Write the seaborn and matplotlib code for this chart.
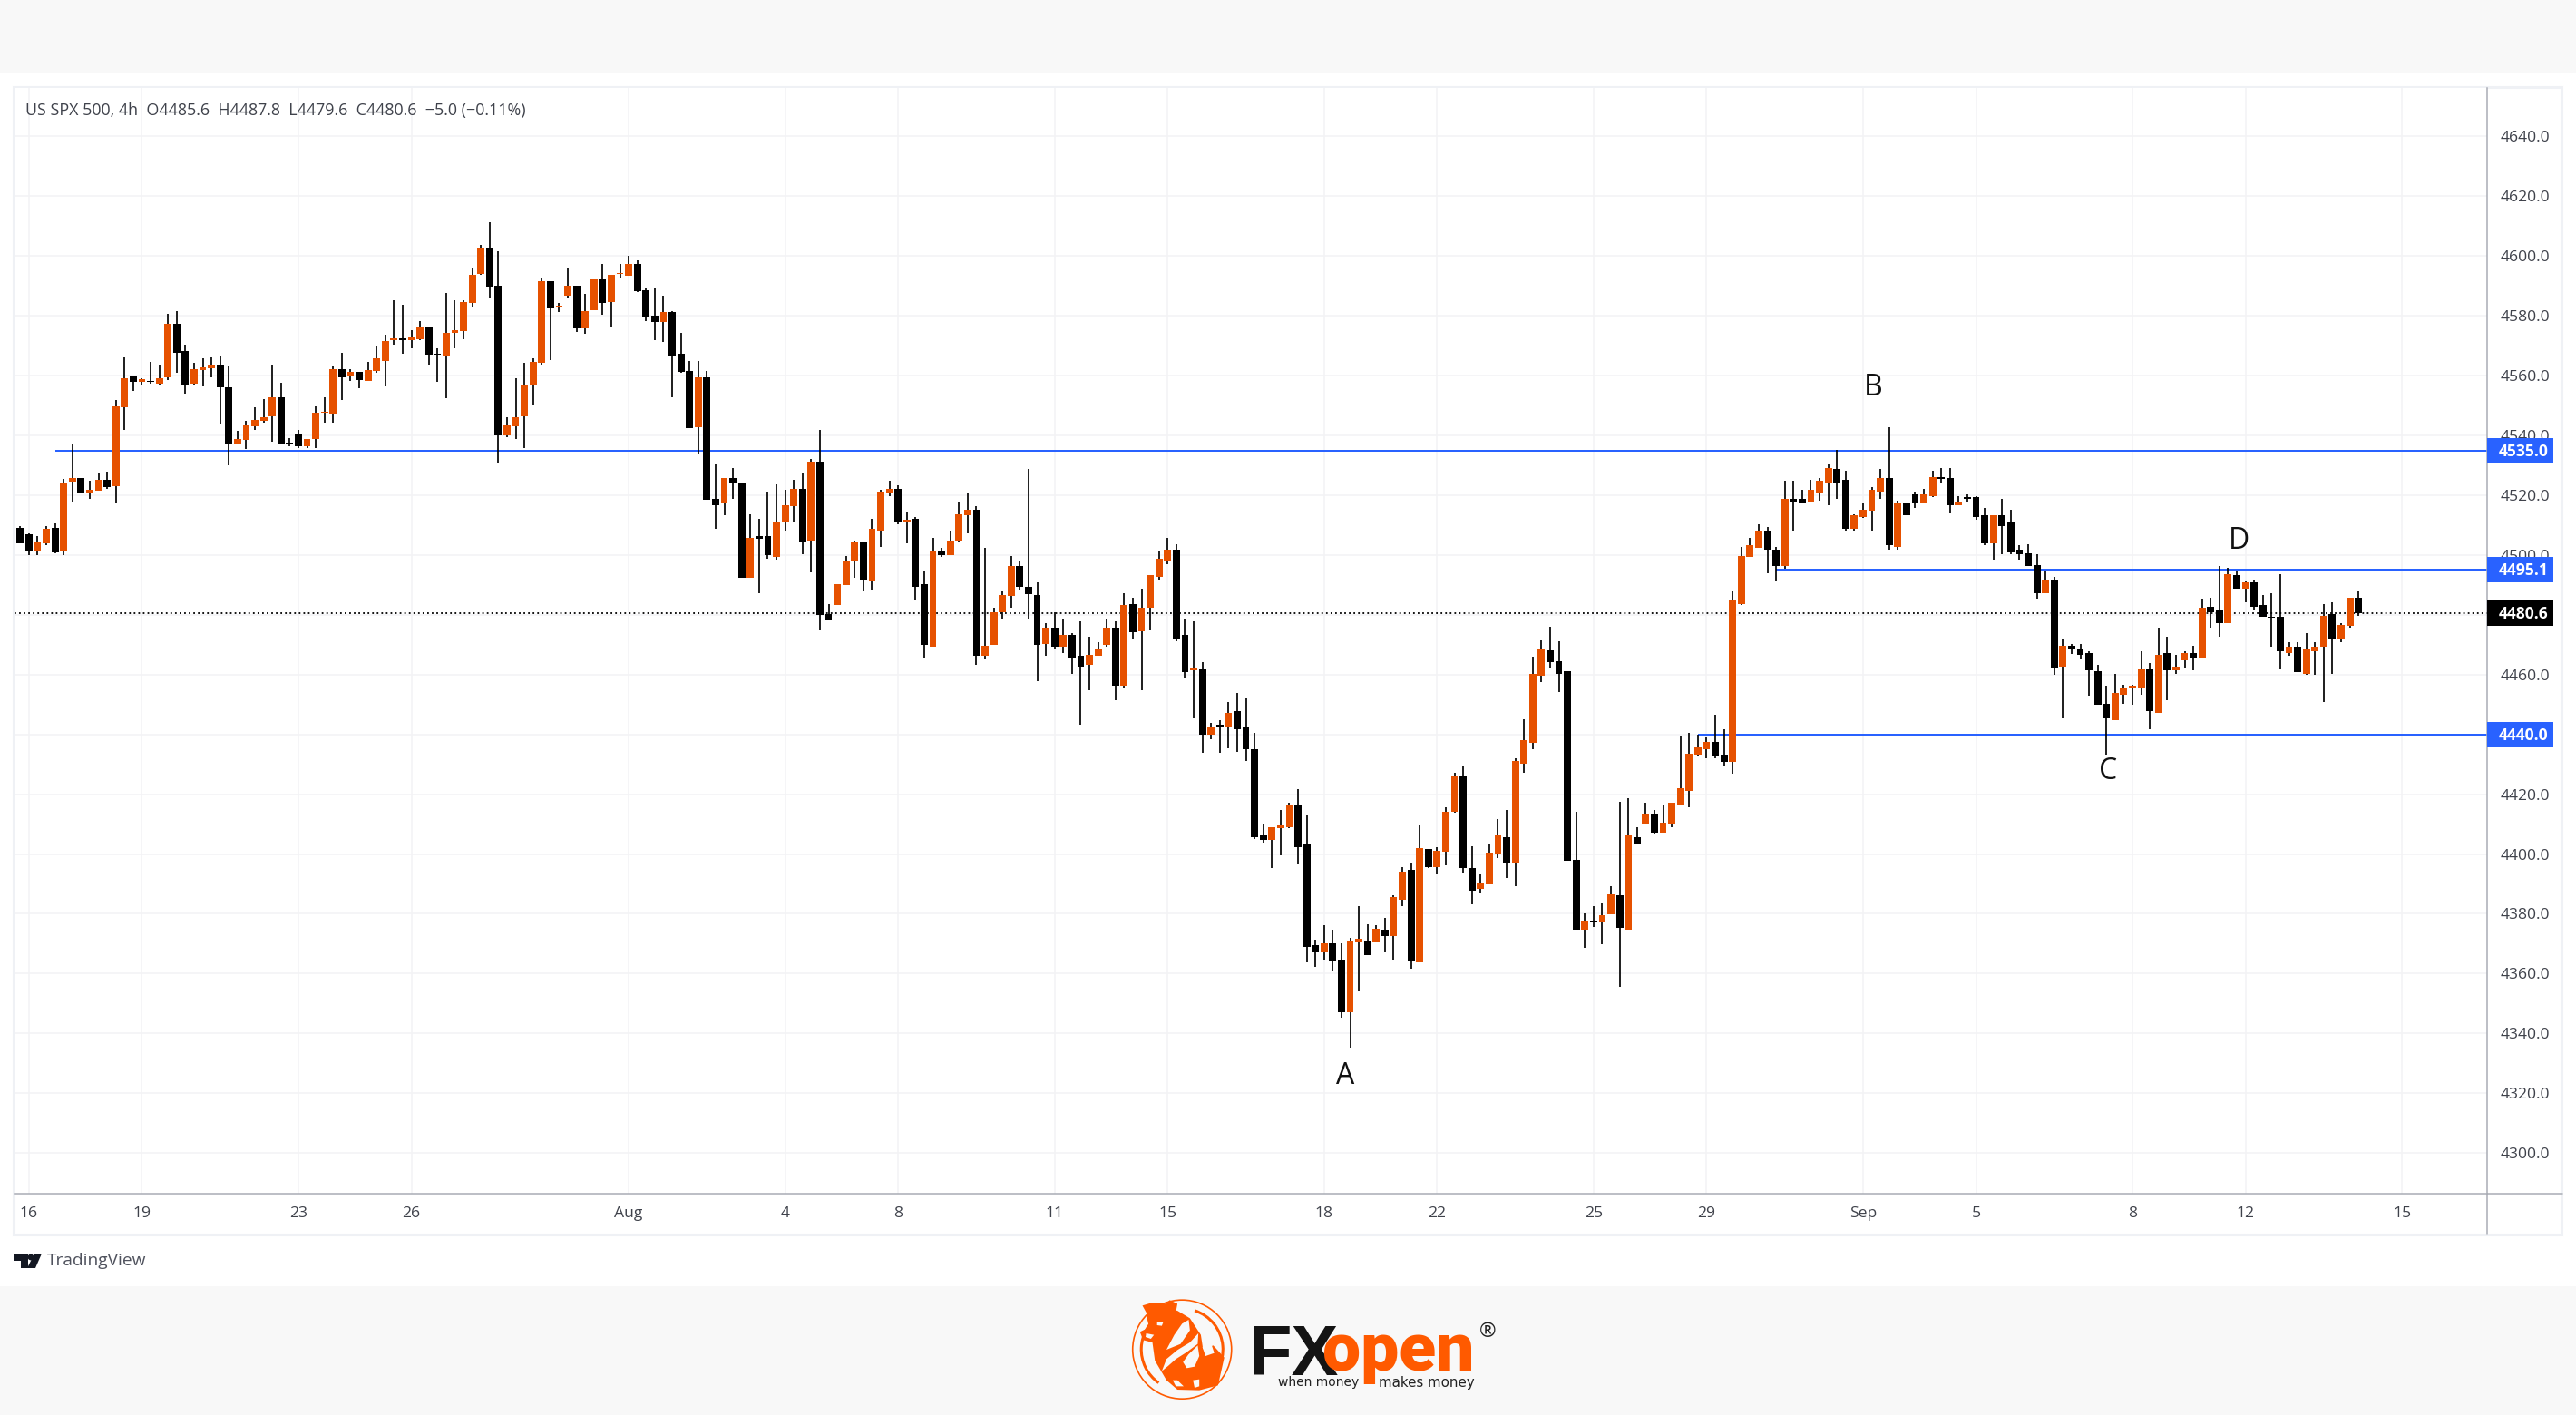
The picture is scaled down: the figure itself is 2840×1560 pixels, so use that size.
import matplotlib
matplotlib.use('Agg')
import matplotlib.pyplot as plt
import numpy as np
import pandas as pd
import seaborn as sns
from matplotlib.patches import Circle, Arc, Polygon, Rectangle
from matplotlib.transforms import blended_transform_factory

# Velas de 4h
opens = [
    4521.0, 4509.2, 4506.8, 4501.1, 4504.0, 4509.2, 4501.5, 4524.6, 4525.7, 4520.5,
    4521.5, 4525.2, 4523.0, 4549.5, 4559.7, 4558.0, 4558.2, 4557.2, 4559.4, 4577.2,
    4568.2, 4557.3, 4561.8, 4562.4, 4563.7, 4556.2, 4536.9, 4538.4, 4542.9, 4544.8,
    4546.3, 4552.7, 4537.5, 4540.7, 4536.3, 4538.9, 4547.5, 4547.4, 4562.3, 4559.9,
    4561.3, 4558.3, 4561.4, 4564.9, 4571.9, 4572.3, 4571.9, 4572.3, 4576.2, 4567.3,
    4566.8, 4574.4, 4574.9, 4584.4, 4593.9, 4602.7, 4590.2, 4539.9, 4542.9, 4546.3,
    4556.8, 4564.2, 4591.7, 4582.8, 4586.7, 4590.2, 4575.9, 4581.9, 4592.2, 4584.6,
    4593.9, 4593.3, 4597.2, 4588.7, 4580.2, 4577.8, 4581.2, 4567.3, 4561.7, 4542.8,
    4559.3, 4518.8, 4517.3, 4525.7, 4524.2, 4492.3, 4506.2, 4506.2, 4499.4, 4510.8,
    4516.3, 4522.2, 4504.9, 4531.2, 4480.2, 4483.4, 4489.9, 4497.8, 4504.3, 4491.4,
    4508.3, 4520.8, 4522.2, 4510.8, 4512.2, 4490.3, 4469.3, 4501.3, 4499.9, 4504.8,
    4513.3, 4515.2, 4466.3, 4469.8, 4480.8, 4486.3, 4496.3, 4489.2, 4486.7, 4470.3,
    4475.8, 4469.3, 4473.3, 4466.3, 4463.4, 4466.3, 4469.8, 4475.8, 4456.4, 4483.7,
    4474.4, 4482.3, 4492.8, 4497.8, 4501.8, 4473.3, 4461.3, 4461.7, 4439.8, 4443.2,
    4442.2, 4447.8, 4442.7, 4435.0, 4406.1, 4404.8, 4408.6, 4409.1, 4416.6, 4403.1,
    4369.6, 4367.2, 4370.1, 4364.7, 4347.2, 4370.7, 4371.0, 4370.7, 4374.6, 4372.7,
    4384.7, 4394.6, 4363.7, 4401.6, 4395.7, 4400.7, 4414.2, 4426.2, 4395.2, 4388.3,
    4389.7, 4400.2, 4405.6, 4397.1, 4430.1, 4437.2, 4459.6, 4468.0, 4464.6, 4461.0,
    4398.1, 4374.7, 4377.6, 4377.1, 4379.7, 4386.1, 4374.7, 4405.6, 4410.2, 4413.6,
    4407.2, 4410.2, 4416.1, 4421.2, 4433.1, 4435.1, 4437.6, 4433.1, 4430.9, 4483.7,
    4499.4, 4502.3, 4508.3, 4501.8, 4496.3, 4518.8, 4518.8, 4517.8, 4520.8, 4524.3,
    4528.7, 4525.2, 4508.8, 4512.8, 4514.8, 4521.3, 4525.7, 4502.8, 4517.3, 4520.2,
    4517.3, 4519.8, 4526.2, 4525.7, 4516.8, 4519.3, 4519.3, 4513.2, 4503.8, 4513.2,
    4510.8, 4501.8, 4500.7, 4496.7, 4487.3, 4491.8, 4462.8, 4469.7, 4468.7, 4467.2,
    4461.2, 4450.2, 4444.8, 4453.4, 4455.3, 4455.8, 4461.7, 4447.3, 4467.2, 4461.3,
    4464.8, 4467.2, 4465.8, 4482.8, 4481.8, 4477.3, 4493.2, 4488.8, 4490.8, 4483.3,
    4479.2, 4479.2, 4467.3, 4469.2, 4460.3, 4467.8, 4469.3, 4480.2, 4471.7, 4476.2,
    4485.6,
]
closes = [
    4509.0, 4504.0, 4501.1, 4504.3, 4508.7, 4501.0, 4524.3, 4525.7, 4520.5, 4521.7,
    4525.2, 4522.8, 4549.6, 4559.2, 4558.0, 4558.7, 4557.8, 4559.2, 4577.2, 4567.5,
    4556.9, 4562.3, 4562.7, 4563.7, 4556.0, 4536.9, 4538.8, 4543.2, 4545.2, 4546.2,
    4552.7, 4537.4, 4537.1, 4536.3, 4538.8, 4547.7, 4547.8, 4562.3, 4559.4, 4561.3,
    4558.4, 4561.8, 4565.7, 4571.7, 4572.3, 4571.9, 4572.8, 4576.2, 4566.9, 4566.9,
    4574.3, 4575.2, 4584.6, 4593.8, 4602.7, 4589.8, 4539.9, 4543.2, 4546.2, 4556.7,
    4564.6, 4591.7, 4582.4, 4583.2, 4590.2, 4575.9, 4581.7, 4592.2, 4584.4, 4593.8,
    4594.3, 4597.2, 4588.3, 4579.8, 4577.8, 4581.2, 4566.8, 4561.3, 4542.4, 4559.3,
    4518.4, 4516.8, 4525.7, 4523.8, 4492.3, 4505.7, 4505.3, 4499.9, 4511.2, 4516.7,
    4522.2, 4504.3, 4531.2, 4479.8, 4478.3, 4490.3, 4498.2, 4504.3, 4491.9, 4508.8,
    4521.2, 4522.2, 4510.8, 4511.7, 4489.3, 4469.8, 4501.3, 4499.9, 4504.7, 4513.7,
    4515.2, 4466.3, 4469.7, 4480.8, 4486.7, 4496.3, 4489.3, 4486.8, 4469.8, 4475.8,
    4469.3, 4473.3, 4465.8, 4462.8, 4466.7, 4468.7, 4475.8, 4456.4, 4483.3, 4474.3,
    4482.3, 4493.3, 4498.8, 4501.8, 4471.9, 4460.8, 4462.2, 4439.8, 4442.7, 4442.2,
    4447.3, 4441.8, 4435.1, 4405.6, 4404.8, 4409.1, 4409.6, 4416.6, 4402.2, 4368.8,
    4367.2, 4370.1, 4364.2, 4347.2, 4371.0, 4371.6, 4366.2, 4375.1, 4372.7, 4385.7,
    4394.1, 4364.2, 4402.0, 4395.7, 4401.1, 4414.1, 4426.2, 4395.2, 4387.7, 4390.2,
    4400.6, 4406.1, 4397.1, 4431.1, 4438.1, 4460.1, 4468.6, 4464.1, 4460.1, 4397.7,
    4374.7, 4377.6, 4377.2, 4379.6, 4386.6, 4375.2, 4406.1, 4403.6, 4413.6, 4407.2,
    4410.6, 4417.1, 4422.1, 4433.6, 4435.7, 4437.6, 4432.6, 4430.7, 4484.7, 4499.8,
    4503.2, 4508.3, 4501.9, 4496.3, 4518.8, 4517.8, 4517.6, 4521.7, 4524.7, 4529.2,
    4524.3, 4508.8, 4513.2, 4515.2, 4521.7, 4525.7, 4503.3, 4517.3, 4513.3, 4517.3,
    4520.2, 4526.2, 4525.3, 4516.8, 4517.8, 4518.8, 4512.8, 4503.8, 4513.2, 4509.8,
    4500.8, 4500.4, 4496.3, 4487.3, 4491.8, 4462.2, 4469.7, 4468.8, 4466.7, 4461.3,
    4449.8, 4445.3, 4453.8, 4455.8, 4456.3, 4461.7, 4447.8, 4466.7, 4461.3, 4462.8,
    4467.2, 4465.8, 4482.3, 4480.8, 4477.3, 4493.7, 4488.8, 4490.8, 4482.8, 4479.3,
    4478.9, 4467.8, 4469.2, 4460.8, 4468.7, 4469.2, 4479.7, 4471.7, 4476.7, 4485.7,
    4480.6,
]
highs = [
    4521.2, 4509.7, 4507.3, 4506.3, 4509.8, 4510.7, 4525.3, 4537.3, 4525.7, 4524.7,
    4527.4, 4527.8, 4551.9, 4566.1, 4559.7, 4559.2, 4564.7, 4563.7, 4580.7, 4581.7,
    4570.2, 4564.2, 4565.8, 4566.1, 4566.7, 4563.2, 4541.4, 4544.8, 4549.3, 4552.2,
    4563.6, 4557.7, 4539.2, 4541.7, 4538.8, 4549.6, 4552.7, 4563.2, 4567.7, 4562.3,
    4561.3, 4564.7, 4569.7, 4573.6, 4585.1, 4583.6, 4575.1, 4578.2, 4576.2, 4569.2,
    4587.6, 4585.1, 4585.1, 4595.7, 4603.7, 4611.2, 4601.7, 4546.2, 4559.2, 4564.2,
    4565.7, 4592.7, 4591.7, 4584.4, 4595.7, 4590.2, 4587.2, 4592.2, 4597.2, 4593.8,
    4597.2, 4600.2, 4598.7, 4589.1, 4589.1, 4586.8, 4581.7, 4574.2, 4564.8, 4564.8,
    4561.7, 4530.3, 4525.7, 4529.2, 4524.2, 4513.7, 4512.2, 4521.2, 4523.7, 4521.7,
    4525.2, 4527.2, 4532.2, 4541.8, 4483.7, 4490.3, 4499.7, 4504.8, 4504.3, 4512.2,
    4521.7, 4524.7, 4523.2, 4514.2, 4512.7, 4494.8, 4505.7, 4502.3, 4508.3, 4517.8,
    4520.7, 4516.2, 4502.3, 4482.3, 4487.7, 4499.7, 4498.2, 4528.8, 4490.8, 4477.3,
    4480.8, 4478.8, 4473.8, 4477.8, 4472.8, 4470.7, 4478.8, 4477.8, 4487.2, 4485.7,
    4488.7, 4493.3, 4501.3, 4505.7, 4503.7, 4478.8, 4477.8, 4464.3, 4443.8, 4444.8,
    4450.7, 4453.8, 4452.1, 4440.6, 4410.1, 4409.1, 4414.6, 4417.1, 4421.6, 4413.1,
    4371.2, 4376.2, 4374.6, 4370.1, 4372.1, 4382.6, 4376.6, 4376.2, 4378.7, 4386.2,
    4395.6, 4397.1, 4409.6, 4401.6, 4402.2, 4415.6, 4427.1, 4429.6, 4402.6, 4393.2,
    4403.6, 4411.6, 4414.6, 4432.1, 4445.1, 4466.1, 4471.6, 4476.1, 4471.1, 4461.0,
    4414.1, 4380.1, 4382.6, 4383.7, 4389.1, 4417.6, 4418.6, 4409.1, 4417.1, 4414.6,
    4416.6, 4417.1, 4439.5, 4440.6, 4439.9, 4439.2, 4446.5, 4441.6, 4487.7, 4502.8,
    4505.7, 4510.3, 4509.3, 4502.8, 4524.7, 4524.7, 4521.7, 4525.2, 4525.7, 4530.7,
    4535.2, 4528.2, 4513.7, 4517.2, 4522.7, 4528.7, 4542.7, 4518.3, 4517.3, 4521.2,
    4522.2, 4528.2, 4529.2, 4529.2, 4519.8, 4520.3, 4519.8, 4515.7, 4513.2, 4518.8,
    4515.2, 4503.2, 4503.7, 4500.3, 4494.8, 4492.8, 4471.8, 4470.2, 4470.2, 4467.8,
    4463.3, 4456.3, 4460.2, 4456.7, 4456.7, 4467.7, 4463.8, 4475.7, 4472.8, 4466.7,
    4467.7, 4469.7, 4485.3, 4485.8, 4496.3, 4495.7, 4494.8, 4491.3, 4491.8, 4486.7,
    4487.2, 4493.7, 4470.7, 4470.7, 4473.8, 4470.7, 4483.7, 4484.3, 4477.2, 4485.7,
    4487.8,
]
lows = [
    4509.0, 4503.8, 4500.0, 4500.0, 4503.4, 4500.6, 4500.0, 4517.9, 4520.5, 4518.9,
    4521.5, 4522.0, 4517.4, 4541.9, 4555.0, 4556.8, 4557.3, 4556.8, 4558.4, 4560.9,
    4553.9, 4556.8, 4556.3, 4559.3, 4543.8, 4530.0, 4536.9, 4535.4, 4541.9, 4544.3,
    4537.9, 4537.4, 4536.4, 4535.9, 4535.9, 4535.9, 4544.3, 4544.3, 4551.9, 4558.3,
    4555.8, 4558.3, 4560.8, 4556.3, 4570.3, 4567.3, 4569.2, 4571.8, 4563.7, 4557.8,
    4552.4, 4569.2, 4572.3, 4582.8, 4593.8, 4586.2, 4530.9, 4539.4, 4538.9, 4535.9,
    4550.4, 4563.7, 4565.2, 4581.3, 4586.2, 4574.7, 4573.9, 4581.9, 4580.3, 4576.2,
    4592.7, 4593.3, 4587.9, 4578.3, 4571.8, 4571.3, 4552.8, 4560.9, 4542.4, 4533.8,
    4518.4, 4508.8, 4513.3, 4518.8, 4492.3, 4492.3, 4487.3, 4498.8, 4498.3, 4508.3,
    4511.3, 4500.3, 4494.3, 4474.8, 4478.3, 4483.4, 4489.9, 4492.3, 4487.8, 4488.3,
    4502.8, 4519.8, 4510.3, 4503.8, 4484.8, 4465.8, 4469.3, 4499.3, 4499.9, 4504.3,
    4507.2, 4463.4, 4465.3, 4469.8, 4478.8, 4482.3, 4488.3, 4478.8, 4457.9, 4466.3,
    4468.3, 4467.3, 4460.2, 4443.2, 4454.9, 4466.3, 4469.3, 4451.3, 4455.4, 4471.9,
    4454.9, 4474.8, 4491.8, 4496.8, 4471.3, 4458.8, 4445.3, 4433.7, 4438.3, 4433.7,
    4435.3, 4434.2, 4431.2, 4405.1, 4403.7, 4395.3, 4399.6, 4408.6, 4396.7, 4363.7,
    4362.2, 4364.7, 4360.7, 4345.3, 4335.2, 4354.2, 4366.2, 4370.7, 4367.2, 4364.7,
    4382.6, 4361.7, 4363.7, 4395.2, 4393.2, 4396.1, 4413.7, 4393.7, 4383.2, 4387.2,
    4389.7, 4398.6, 4392.1, 4389.2, 4427.1, 4435.1, 4457.6, 4462.1, 4454.2, 4397.7,
    4374.7, 4368.6, 4375.6, 4369.7, 4379.7, 4355.7, 4374.7, 4403.1, 4410.2, 4406.6,
    4407.2, 4409.1, 4416.1, 4415.6, 4432.6, 4432.1, 4432.1, 4429.6, 4426.8, 4483.3,
    4499.4, 4502.3, 4493.8, 4491.3, 4495.3, 4508.3, 4517.3, 4517.8, 4518.2, 4516.7,
    4518.8, 4508.3, 4508.3, 4512.3, 4508.3, 4518.8, 4501.8, 4501.8, 4513.3, 4515.8,
    4517.3, 4519.3, 4524.3, 4513.8, 4516.8, 4517.8, 4511.8, 4503.3, 4498.3, 4500.3,
    4500.3, 4498.3, 4496.3, 4485.3, 4487.3, 4459.8, 4445.3, 4466.8, 4465.3, 4452.8,
    4449.8, 4433.3, 4444.8, 4450.3, 4449.8, 4453.4, 4441.8, 4447.3, 4451.3, 4460.3,
    4462.3, 4461.3, 4465.8, 4475.7, 4472.8, 4477.3, 4488.8, 4484.3, 4481.8, 4479.3,
    4469.3, 4461.7, 4466.3, 4460.8, 4459.8, 4459.8, 4450.8, 4460.3, 4470.7, 4475.7,
    4479.6,
]

price_ticks = list(range(4300, 4660, 20))
date_labels = ['16', '19', '23', '26', 'Aug', '4', '8', '11', '15', '18', '22', '25', '29', 'Sep', '5', '8', '12', '15']
date_bars = [2, 15, 33, 46, 71, 89, 102, 120, 133, 151, 164, 182, 195, 213, 226, 244, 257, 275]

level_prices = [4535.0, 4495.1, 4440.0]
level_starts = [5, 203, 194]
last_price = 4480.6

point_labels = ['A', 'B', 'C', 'D']
point_bars = [153.4, 214.2, 241.2, 256.3]
point_prices = [4325.7, 4555.9, 4427.7, 4504.6]

W, H = 2840, 1560
ORANGE = '#e65100'
BLUE = '#2962ff'
LOGO = '#ff5a00'
TEXT = '#3f424b'
BAND = '#f8f8f8'

sns.set_theme(style='white')
plt.rcParams['font.family'] = ['Open Sans', 'DejaVu Sans']

df = pd.DataFrame({'open': opens, 'high': highs, 'low': lows, 'close': closes})
df['bar'] = np.arange(len(df))
df['up'] = df['close'] >= df['open']
df['base'] = df[['open', 'close']].min(axis=1)
# Las velas doji siguen viendose como una raya fina
df['body'] = (df['close'] - df['open']).abs().clip(lower=0.45)

fig = plt.figure(figsize=(W / 200, H / 200), dpi=200, facecolor='white')

# Fondo en pixeles: bandas, marco, logos
bg = fig.add_axes([0, 0, 1, 1], zorder=0)
bg.set_xlim(0, W)
bg.set_ylim(H, 0)
bg.axis('off')
bg.add_patch(Rectangle((0, 0), W, 80, color=BAND, lw=0))
bg.add_patch(Rectangle((0, 1418), W, 142, color=BAND, lw=0))
bg.add_patch(Rectangle((15, 96), 2809, 1265, fc='white', ec='#eff1f5', lw=1.1))
bg.plot([2742, 2825], [1316, 1316], color='#a9acb5', lw=0.55)
bg.plot([2742, 2742], [1316, 1361], color='#a9acb5', lw=0.55)

# Logo TradingView
bg.add_patch(Polygon([(15, 1382), (31, 1382), (31, 1398), (23, 1398), (23, 1390), (15, 1390)], color='#131722', lw=0))
bg.add_patch(Circle((34, 1386), 3.4, color='#131722', lw=0))
bg.add_patch(Polygon([(38, 1382), (46, 1382), (39, 1398), (30, 1398)], color='#131722', lw=0))
bg.text(52, 1390, 'TradingView', fontsize=6.9, color='#50535e', va='center', ha='left')


def lx(px):
    return 1150 + px / 2.904


def ly(py):
    return 1400 + py / 3


def blob(points, color):
    bg.add_patch(Polygon([(lx(a), ly(b)) for a, b in points], color=color, lw=0))


# Logo FXopen, emblema aproximado
cx, cy = lx(445), ly(263)
bg.add_patch(Circle((cx, cy), 54.5, fc='none', ec=LOGO, lw=0.6))
bg.add_patch(Arc((cx, cy), 90, 90, theta1=-72, theta2=62, color=LOGO, lw=1.1))
bg.add_patch(Arc((cx, cy), 90, 90, theta1=125, theta2=240, color=LOGO, lw=1.1))
blob([(330, 150), (380, 125), (430, 135), (470, 160), (505, 215), (512, 262), (545, 250), (580, 290),
      (560, 382), (500, 398), (430, 396), (395, 365), (358, 300), (350, 240), (320, 232), (310, 205), (340, 190)], LOGO)
blob([(318, 118), (350, 108), (395, 112), (405, 100), (430, 112), (425, 140), (405, 150), (385, 128), (335, 150)], LOGO)
blob([(395, 264), (420, 215), (445, 178), (466, 165), (470, 200), (440, 245)], BAND)
blob([(380, 335), (395, 295), (430, 265), (470, 240), (497, 210), (495, 245), (460, 272), (425, 295), (400, 318)], BAND)
blob([(495, 250), (500, 285), (485, 320), (460, 325), (448, 305), (465, 280)], BAND)
blob([(415, 365), (430, 365), (450, 385), (425, 385)], BAND)
blob([(510, 255), (540, 250), (548, 275), (520, 285)], BAND)
blob([(365, 172), (385, 172), (380, 185), (365, 183)], BAND)
blob([(330, 210), (355, 215), (345, 228), (328, 222)], BAND)
blob([(480, 365), (500, 362), (500, 385), (485, 390)], BAND)
bg.text(lx(658), ly(347), 'FX', fontsize=28, fontweight='bold', family='Liberation Sans',
        color='#141414', ha='left', va='baseline')
bg.text(lx(895), ly(332), 'open', fontsize=27, fontweight='black', family='Roboto',
        color=LOGO, ha='left', va='baseline')
bg.text(lx(1424), ly(204), '®', fontsize=8, color='#222222', ha='center', va='center')
bg.text(lx(752), ly(373), 'when money', fontsize=5, family='DejaVu Sans', color='#222222', ha='left', va='center')
bg.text(lx(1075), ly(373), 'makes money', fontsize=5.4, family='DejaVu Sans', color='#222222', ha='left', va='center')

# Panel de precios
ax = fig.add_axes([16 / W, 1 - 1316 / H, (2742 - 16) / W, (1316 - 97) / H], zorder=1)
ax.set_facecolor('white')

wick_w = 0.62
ax.vlines(df['bar'], df['low'], df['high'], color='black', lw=wick_w, zorder=3)
for is_up, color in [(True, ORANGE), (False, 'black')]:
    part = df[df['up'] == is_up]
    sns.barplot(data=part, x='bar', y='body', bottom=part['base'], native_scale=True, width=0.82,
                color=color, saturation=1, errorbar=None, linewidth=0, zorder=4, ax=ax)

ax.set_xlim(0.34, 284.8)
ax.set_ylim(4286.4, 4656.2)
ax.set_xlabel('')
ax.set_ylabel('')

ax.yaxis.tick_right()
ax.set_yticks(price_ticks)
ax.set_yticklabels([f'{p:.1f}' for p in price_ticks])
ax.set_xticks(date_bars)
ax.set_xticklabels(date_labels)
ax.tick_params(axis='y', length=0, pad=5.2, labelsize=6.3, labelcolor=TEXT)
ax.tick_params(axis='x', length=0, pad=5.2, labelsize=6.3, labelcolor=TEXT)
ax.grid(True, color='#f3f3f5', lw=0.55, zorder=0)
ax.set_axisbelow(True)
for name, spine in ax.spines.items():
    spine.set_visible(name in ('bottom', 'right'))
    spine.set_color('#a9acb5')
    spine.set_linewidth(0.55)

# Niveles horizontales y precio actual
for price, start in zip(level_prices, level_starts):
    ax.hlines(price, start, 284.8, color=BLUE, lw=0.72, zorder=2)
ax.axhline(last_price, color='black', lw=0.65, linestyle=(0, (1, 1.8)), zorder=2)

for label, bar, price in zip(point_labels, point_bars, point_prices):
    ax.text(bar, price, label, fontsize=11.5, color='#111111', ha='center', va='center', zorder=6)

# Etiquetas de precio en el eje
tags = blended_transform_factory(ax.transAxes, ax.transData)
for price, color in zip(level_prices + [last_price], [BLUE, BLUE, BLUE, 'black']):
    ax.add_patch(Rectangle((1.0, price - 4.2), 73 / 2726, 8.4, transform=tags, color=color, lw=0,
                           clip_on=False, zorder=5))
    ax.text(1 + 40 / 2726, price - 0.3, f'{price:.1f}', transform=tags, color='white', fontsize=6.3,
            fontweight='bold', ha='center', va='center', clip_on=False, zorder=6)

ax.text(12 / 2726, 1 - 25 / 1219, 'US SPX 500, 4h  O4485.6  H4487.8  L4479.6  C4480.6  −5.0 (−0.11%)',
        transform=ax.transAxes, fontsize=6.45, color=TEXT, ha='left', va='center', zorder=6)

fig.savefig('out.png', dpi=200)
